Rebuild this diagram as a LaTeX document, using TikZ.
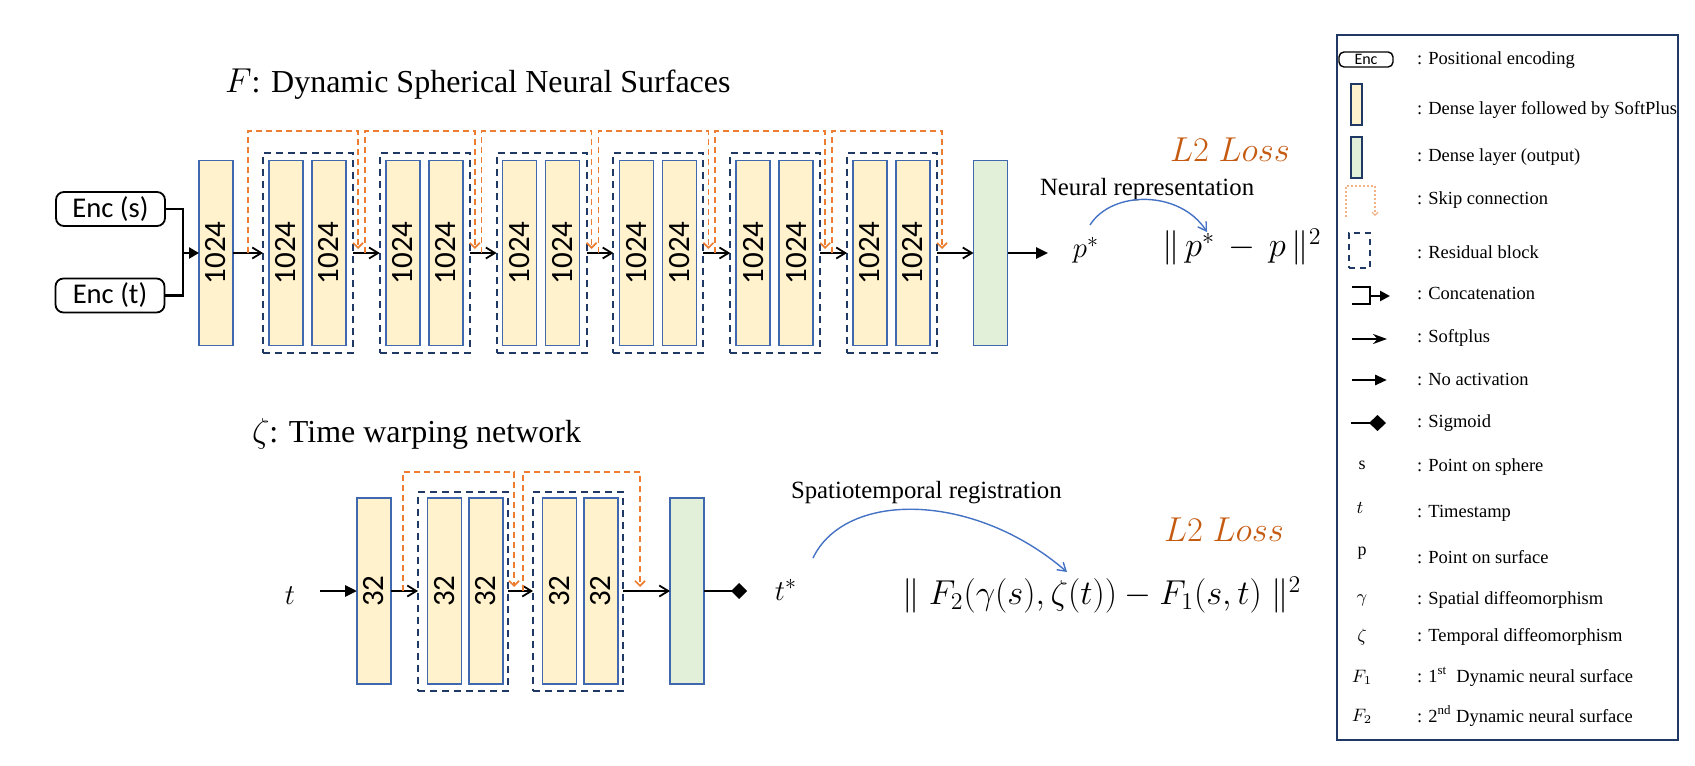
\documentclass[tikz,border=0pt]{standalone}
\usepackage{fontspec}
\setmainfont{Liberation Serif}
\newfontfamily\carl{Carlito}
\usetikzlibrary{arrows.meta}
\definecolor{laycol}{HTML}{4068AE}
\definecolor{layfill}{HTML}{FFF2CC}
\definecolor{outfill}{HTML}{E2EFD9}
\definecolor{navy}{HTML}{1F3864}
\definecolor{skipcol}{HTML}{ED7D31}
\definecolor{skiplight}{HTML}{F4B183}
\definecolor{losscol}{HTML}{C55A11}
\definecolor{arccol}{HTML}{4472C4}
\begin{document}
\begin{tikzpicture}[x=0.5pt,y=-0.5pt,
  every node/.style={inner sep=0pt, outer sep=0pt},
  layer/.style={draw=laycol, fill=layfill, line width=0.8pt, minimum width=17pt, minimum height=92.5pt},
  outlayer/.style={layer, fill=outfill},
  lnum/.style={label={[rotate=90,font=\carl\fontsize{15.5}{16}\selectfont]center:#1}},
  resblk/.style={draw=navy, dash pattern=on 3.5pt off 2.5pt, line width=1pt, minimum width=45pt, minimum height=100pt},
  enc/.style={draw=black, line width=0.9pt, rounded corners=4pt, minimum width=54.5pt, minimum height=17pt, font=\carl\fontsize{14.3}{16}\selectfont},
  flow/.style={line width=0.9pt, -{Straight Barb[length=4.5pt,width=5.5pt]}},
  thickarrow/.style={line width=1.4pt, -{Triangle[length=6pt,width=5.5pt]}},
  concat/.style={line width=1.4pt, line join=miter},
  skip/.style={draw=skipcol, line width=0.85pt, dash pattern=on 3pt off 2pt, -{Straight Barb[length=2.5pt,width=5pt]}},
  title/.style={anchor=base west, font=\fontsize{16}{19}\selectfont},
  sub/.style={anchor=west, font=\fontsize{12.4}{14}\selectfont},
  fml/.style={font=\fontsize{15.5}{18}\selectfont},
  bigfml/.style={anchor=west, font=\fontsize{17.2}{20}\selectfont},
  loss/.style={font=\fontsize{16.5}{19}\selectfont, text=losscol},
  arc/.style={draw=arccol, line width=0.7pt, -{Straight Barb[length=4pt,width=5pt]}},
  legtxt/.style={anchor=west, font=\fontsize{9.25}{11}\selectfont},
  legsym/.style={font=\fontsize{9}{11}\selectfont}
]
\useasboundingbox (0,0) rectangle (1695,765);

% ---------------- top network ----------------
\node[title] (t1) at (225,93) {$F$: Dynamic Spherical Neural Surfaces};
\node[enc] (encs) at (110.5,209) {Enc (s)};
\node[enc] (enct) at (110,295.5) {Enc (t)};
\coordinate (cj) at (183,253);
\node[layer, lnum=1024] (L0) at (216,253) {};
\draw[concat] (encs.east) -| (cj) |- (enct.east);
\draw[concat, -{Triangle[length=5pt,width=5.5pt]}] (cj) -- (L0.west);

\foreach \k in {0,...,5}{
  \pgfmathsetmacro\Lx{263+116.8*\k}
  \node[resblk] (rb\k) at (\Lx+45,253) {};
  \node[layer,lnum=1024] (ra\k) at (\Lx+23,253) {};
  \node[layer,lnum=1024] (rc\k) at (\Lx+66,253) {};
  \coordinate (su\k) at (\Lx-15,253);
  \coordinate (tp\k) at (\Lx+95,131);
  \coordinate (sd\k) at (\Lx+95,249);
}
\node[outlayer] (gF) at (990.5,253) {};
\draw[flow] (L0.east) -- (rb0.west);
\foreach \k/\n in {0/1,1/2,2/3,3/4,4/5} \draw[flow] (rb\k.east) -- (rb\n.west);
\draw[flow] (rb5.east) -- (gF.west);
\foreach \k in {0,...,5} \draw[skip] (su\k) |- (tp\k) -- (sd\k);

\coordinate (pend) at (1048,253);
\draw[thickarrow] (gF.east) -- (pend);
\node[fml] (pstar) at (1086,250) {$p^{*}$};
\node[sub] (nr) at (1040,190) {Neural representation};
\node[loss] (loss1) at (1230,150) {$L2\;Loss$};
\node[bigfml] (f1) at (1162,247) {$\|\,p^{*}\,-\,p\,\|^{2}$};
\coordinate (a1) at (1090,225);
\coordinate (a2) at (1207,232);
\draw[arc] (a1) .. controls (1112,190) and (1180,190) .. (a2);

% ---------------- bottom network ----------------
\node[title] (t2) at (252,442) {$\zeta$: Time warping network};
\node[fml] (tin) at (290,596) {$t$};
\coordinate (tst) at (320,591);
\tikzset{blayer/.style={layer, minimum height=93pt}, bblk/.style={resblk, minimum height=99.5pt}}
\node[blayer, lnum=32] (B0) at (374,591) {};
\node[bblk] (bb0) at (463,591) {};
\node[blayer, lnum=32] (ba0) at (444.5,591) {};
\node[blayer, lnum=32] (bc0) at (486,591) {};
\node[bblk] (bb1) at (578,591) {};
\node[blayer, lnum=32] (ba1) at (559.5,591) {};
\node[blayer, lnum=32] (bc1) at (601,591) {};
\node[blayer, fill=outfill] (gB) at (687,591) {};
\draw[thickarrow] (tst) -- (B0.west);
\draw[flow] (B0.east) -- (bb0.west);
\draw[flow] (bb0.east) -- (bb1.west);
\draw[flow] (bb1.east) -- (gB.west);
\coordinate (bsu0) at (403,591);
\coordinate (btp0) at (514,472);
\coordinate (bsd0) at (514,587);
\coordinate (bsu1) at (523,591);
\coordinate (btp1) at (640,472);
\coordinate (bsd1) at (640,587);
\draw[skip] (bsu0) |- (btp0) -- (bsd0);
\draw[skip] (bsu1) |- (btp1) -- (bsd1);
\coordinate (sg) at (747,591);
\draw[line width=1.4pt, -{Diamond[length=8pt,width=8pt]}] (gB.east) -- (sg);
\node[fml] (tstar) at (786,590) {$t^{*}$};
\node[sub] (sr) at (791,493) {Spatiotemporal registration};
\node[loss] (loss2) at (1224,530) {$L2\;Loss$};
\node[bigfml] (f2) at (902,595) {$\|\;F_2\big(\gamma(s),\zeta(t)\big)-F_1(s,t)\;\|^{2}$};
\coordinate (b1) at (813,558);
\coordinate (b2) at (1067,572);
\draw[arc] (b1) .. controls (845,491) and (973,491) .. (b2);

% ---------------- legend ----------------
\draw[draw=navy, line width=0.8pt] (1337,35) rectangle (1678,740);
\node[enc, minimum width=27pt, minimum height=7.5pt, rounded corners=2.5pt, line width=0.7pt, font=\carl\fontsize{8}{9}\selectfont] (ienc) at (1366,59.5) {Enc};
\node[layer, draw=navy, minimum width=5.5pt, minimum height=20.5pt] (iyel) at (1356.5,104.5) {};
\node[outlayer, draw=navy, minimum width=5.5pt, minimum height=20.5pt] (igrn) at (1356.5,157.5) {};
\coordinate (ik1) at (1346,217);
\coordinate (ik2) at (1375,186);
\coordinate (ik3) at (1375,216);
\draw[draw=skiplight, line width=0.6pt, dash pattern=on 1pt off 1pt, -{Straight Barb[length=1.5pt,width=3pt]}] (ik1) |- (ik2) -- (ik3);
\node[resblk, minimum width=10.5pt, minimum height=17.5pt, dash pattern=on 3pt off 2.5pt] (ires) at (1359.5,250.5) {};
\coordinate (ic1) at (1352,287);
\coordinate (ic2) at (1370,304);
\coordinate (ic3) at (1352,304);
\coordinate (ic4) at (1370,296);
\coordinate (ic5) at (1390,296);
\draw[concat] (ic1) -| (ic2) -- (ic3);
\draw[concat, -{Triangle[length=5pt,width=5pt]}] (ic4) -- (ic5);
\coordinate (is1) at (1352,339);
\coordinate (is2) at (1387,339);
\draw[line width=1.4pt, -{Stealth[length=7pt,width=5pt]}] (is1) -- (is2);
\coordinate (in1) at (1352,380);
\coordinate (in2) at (1387,380);
\draw[line width=1.4pt, -{Triangle[length=6pt,width=5pt]}] (in1) -- (in2);
\coordinate (ig1) at (1351,423);
\coordinate (ig2) at (1386,423);
\draw[line width=1.4pt, -{Diamond[length=8.5pt,width=8pt]}] (ig1) -- (ig2);
\node[legsym] (ys) at (1362,465) {s};
\node[legsym] (yt) at (1360,508) {$t$};
\node[legsym] (yp) at (1362,553) {p};
\node[legsym] (yg) at (1362,600) {$\gamma$};
\node[legsym] (yz) at (1362,637) {$\zeta$};
\node[legsym] (yf1) at (1362,677) {$F_1$};
\node[legsym] (yf2) at (1362,716) {$F_2$};
\foreach \yy/\tx [count=\i] in {60/{: Positional encoding},
  110/{: Dense layer followed by SoftPlus},
  157/{: Dense layer (output)},
  200/{: Skip connection},
  252/{: Residual block},
  294/{: Concatenation},
  338/{: Softplus},
  380/{: No activation},
  423/{: Sigmoid},
  467/{: Point on sphere},
  513/{: Timestamp},
  557/{: Point on surface},
  600/{: Spatial diffeomorphism},
  637/{: Temporal diffeomorphism},
  677/{: 1\textsuperscript{st}\ \ Dynamic neural surface},
  716/{: 2\textsuperscript{nd} Dynamic neural surface}}
  \node[legtxt] (lt\i) at (1417,\yy) {\tx};
\end{tikzpicture}
\end{document}
